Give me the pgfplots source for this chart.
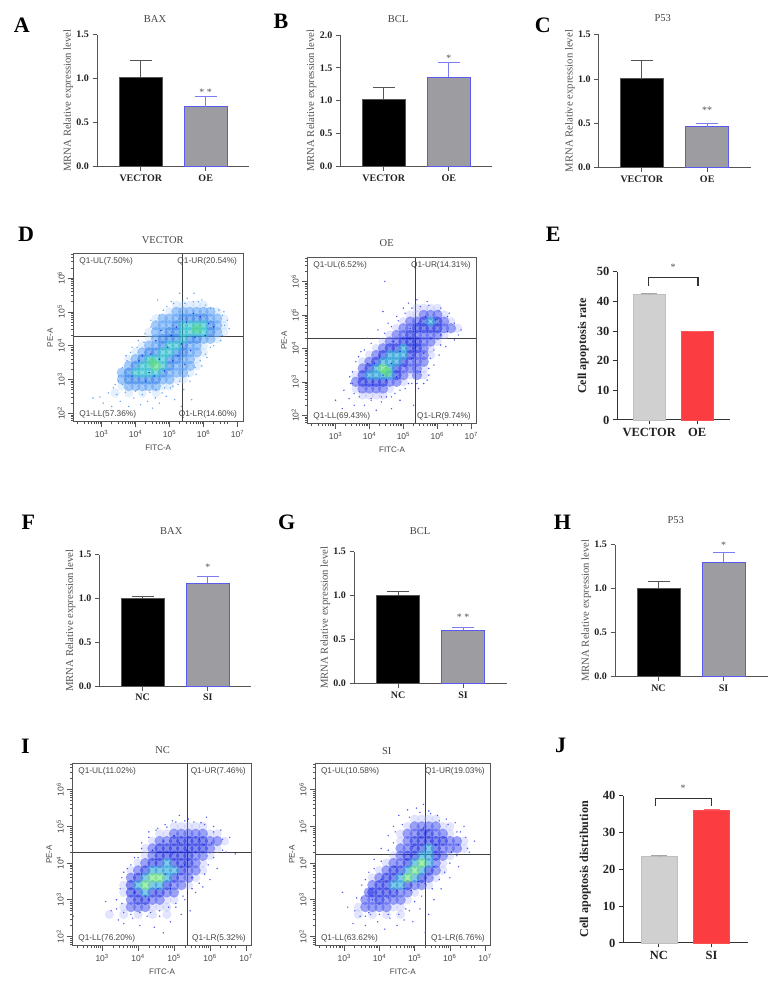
\documentclass[border=0pt]{standalone}
\usepackage{pgfplots}
\pgfplotsset{compat=1.18}
\usepackage{fontspec}
\setmainfont{Liberation Serif}
\newfontfamily\arial{Liberation Sans}
\definecolor{spine}{HTML}{555555}
\definecolor{errb}{HTML}{555555}
\definecolor{oeb}{HTML}{5A5AF0}
\definecolor{oef}{HTML}{9D9CA1}
\definecolor{txt}{HTML}{222222}
\definecolor{ttl}{HTML}{444444}
\definecolor{ngr}{HTML}{D0D0D0}
\definecolor{nrd}{HTML}{FB3C40}
% flow palettes
\definecolor{a0}{HTML}{A8CCFA}\definecolor{a1}{HTML}{5AA0F5}\definecolor{a2}{HTML}{2C7CEA}\definecolor{a3}{HTML}{24BCCB}\definecolor{a4}{HTML}{58D880}
\definecolor{b0}{HTML}{A0A8FA}\definecolor{b1}{HTML}{4A58F0}\definecolor{b2}{HTML}{1C2CE0}\definecolor{b3}{HTML}{1C9CD8}\definecolor{b4}{HTML}{60E070}
\pgfplotsset{
 barax/.style={scale only axis,anchor=south west,clip=false,ymin=0,
  axis x line*=bottom,axis y line*=left,axis line style={-,color=spine,line width=.9pt},
  tick style={color=spine,line width=.9pt},tick align=outside,major tick length=4.5pt,
  xtick={0,1},ybar,bar shift=0pt,bar width=43pt,
  tick label style={font=\bfseries\fontsize{10}{10}\selectfont,text=txt},
  /pgf/number format/assume math mode=true,
  yticklabel style={/pgf/number format/.cd,fixed,fixed zerofill,precision=1},
  ylabel={MRNA Relative expression level},
  every axis y label/.append style={at={(axis description cs:0,0.5)},anchor=center,yshift=28.7pt,
   font=\fontsize{10.7}{10.7}\selectfont,text=spine}},
 bigax/.style={barax,axis line style={-,color=black!80,line width=1pt},tick style={color=black!80,line width=1pt},
  tick label style={font=\bfseries\fontsize{12.5}{12.5}\selectfont,text=txt},
  yticklabel style={/pgf/number format/.cd,fixed,precision=0},
  every axis y label/.append style={font=\bfseries\fontsize{12.1}{12.1}\selectfont,text=txt}},
 blk/.style={fill=black,draw=spine,line width=.9pt,error bars/.cd,y dir=plus,y explicit,
  error bar style={color=errb,line width=.9pt},error mark options={rotate=90,mark size=11pt,color=errb,line width=.9pt}},
 gry/.style={fill=oef,draw=oeb,line width=.9pt,error bars/.cd,y dir=plus,y explicit,
  error bar style={color=oeb!80,line width=.9pt},error mark options={rotate=90,mark size=11pt,color=oeb!80,line width=.9pt}},
 ngb/.style={fill=ngr,draw=ngr!92!black,line width=.8pt,error bars/.cd,y dir=plus,y explicit,
  error bar style={color=ngr!80!black,line width=.7pt},error mark options={rotate=90,mark size=8pt,color=ngr!80!black,line width=.7pt}},
 rdb/.style={fill=nrd,draw=nrd!90,line width=.8pt,error bars/.cd,y dir=plus,y explicit,
  error bar style={color=nrd!80,line width=.7pt},error mark options={rotate=90,mark size=8pt,color=nrd!80,line width=.7pt}},
 flow/.style={scale only axis,anchor=south west,xmin=2.17,xmax=7.16,ymin=1.74,ymax=6.72,
  axis on top=true,axis line style={color=spine,line width=1pt},
  tick style={color=spine,line width=.6pt},tick align=outside,major tick length=5pt,minor tick length=2.5pt,
  xtick={3,4,5,6,7},ytick={2,3,4,5,6},
  xticklabels={\te3,\te4,\te5,\te6,\te7},yticklabels={\te2,\te3,\te4,\te5,\te6},
  minor xtick=\mt,minor ytick=\mt,
  xtick pos=bottom,ytick pos=left,
  tick label style={font=\arial\fontsize{8.5}{8.5}\selectfont,text=ttl},
  yticklabel style={rotate=90,anchor=south},
  xlabel={FITC-A},ylabel={PE-A},
  every axis x label/.append style={font=\arial\fontsize{8}{8}\selectfont,text=ttl,yshift=0pt},
  every axis y label/.append style={font=\arial\fontsize{8}{8}\selectfont,text=ttl,yshift=-2pt}}}
\newcommand\te[1]{10\textsuperscript{#1}}
\def\mt{1.78,1.85,1.9,1.95,2.3,2.48,2.6,2.7,2.78,2.85,2.9,2.95,3.3,3.48,3.6,3.7,3.78,3.85,3.9,3.95,4.3,4.48,4.6,4.7,4.78,4.85,4.9,4.95,5.3,5.48,5.6,5.7,5.78,5.85,5.9,5.95,6.3,6.48,6.6,6.7}
\newcommand\lv[2]{\addplot[only marks,mark=*,mark size=5.2pt,mark options={draw opacity=0,line width=0pt,fill=#1,fill opacity=.55}] coordinates {#2};}
\newcommand\lvz[2]{\addplot[only marks,mark=*,mark size=4.6pt,mark options={draw opacity=0,line width=0pt,fill=#1,fill opacity=.3}] coordinates {#2};}
\newcommand\spk[2]{\addplot[only marks,mark=*,mark size=.8pt,mark options={draw opacity=0,line width=0pt,fill=#1}] coordinates {#2};}
\newcommand\qd[2]{\addplot[no marks,color=black!75,line width=1pt] coordinates {(#1,1.74)(#1,6.72)};
 \addplot[no marks,color=black!75,line width=1pt] coordinates {(2.17,#2)(7.16,#2)};}
\newcommand\qn[4]{\node[anchor=west,font=\arial\fontsize{8.3}{8.3}\selectfont,text=ttl] at (rel axis cs:0,1) [xshift=2.5pt,yshift=-8pt] {#1};
 \node[anchor=east,font=\arial\fontsize{8.3}{8.3}\selectfont,text=ttl] at (rel axis cs:1,1) [xshift=-2.5pt,yshift=-8pt] {#2};
 \node[anchor=west,font=\arial\fontsize{8.3}{8.3}\selectfont,text=ttl] at (rel axis cs:0,0) [xshift=2.5pt,yshift=8pt] {#3};
 \node[anchor=east,font=\arial\fontsize{8.3}{8.3}\selectfont,text=ttl] at (rel axis cs:1,0) [xshift=-2.5pt,yshift=8pt] {#4};}
\newcommand\stt[2]{\node[font=\fontsize{10}{10}\selectfont,text=spine] at (axis cs:#1) {#2};}
\newcommand\ttlb[2]{\node[font=\fontsize{10.5}{10.5}\selectfont,text=ttl] at (#1) {#2};}
\newcommand\pl[2]{\node[font=\bfseries\fontsize{22}{22}\selectfont] at (#1) {#2};}
\begin{document}
\begin{tikzpicture}[x=1pt,y=1pt]
\path[use as bounding box] (0,0) rectangle (779,984);
\pl{21.7,958.3}{A}\pl{281,963}{B}\pl{542.7,959}{C}\pl{26,750}{D}\pl{553.3,750}{E}
\pl{28.3,461.3}{F}\pl{286.7,461.3}{G}\pl{562.3,461.7}{H}\pl{25.3,237.3}{I}\pl{560.7,239}{J}
\ttlb{155,965.3}{BAX}\ttlb{398,965.3}{BCL}\ttlb{662.7,966}{P53}\ttlb{162.7,744}{VECTOR}\ttlb{386.7,740.7}{OE}
\ttlb{171.3,452.7}{BAX}\ttlb{420,452.7}{BCL}\ttlb{675.7,464}{P53}\ttlb{162.7,234}{NC}\ttlb{386.7,233.3}{SI}
% A
\begin{axis}[barax,at={(97pt,817.5pt)},width=152.3pt,height=131.8pt,xmin=-.675,xmax=1.672,ymax=1.5,ytick={0,.5,1,1.5},xticklabels={VECTOR,OE}]
\addplot[blk] coordinates {(0,1.01) +- (0,.20)};
\addplot[gry] coordinates {(1,.68) +- (0,.12)};
\stt{1,.85}{* *}
\end{axis}
% B
\begin{axis}[barax,at={(340.3pt,817.5pt)},width=151.7pt,height=131.5pt,xmin=-.669,xmax=1.665,ymax=2,ytick={0,.5,1,1.5,2},xticklabels={VECTOR,OE}]
\addplot[blk] coordinates {(0,1.02) +- (0,.18)};
\addplot[gry] coordinates {(1,1.36) +- (0,.22)};
\stt{1,1.65}{*}
\end{axis}
% C
\begin{axis}[barax,at={(598.7pt,816.3pt)},width=152pt,height=133pt,xmin=-.659,xmax=1.665,ymax=1.5,ytick={0,.5,1,1.5},xticklabels={VECTOR,OE}]
\addplot[blk] coordinates {(0,1.01) +- (0,.20)};
\addplot[gry] coordinates {(1,.46) +- (0,.035)};
\stt{1,.65}{**}
\end{axis}
% F
\begin{axis}[barax,at={(99.3pt,297.7pt)},width=152pt,height=131.6pt,xmin=-.662,xmax=1.666,ymax=1.5,ytick={0,.5,1,1.5},xticklabels={NC,SI}]
\addplot[blk] coordinates {(0,1.0) +- (0,.02)};
\addplot[gry] coordinates {(1,1.175) +- (0,.08)};
\stt{1,1.36}{*}
\end{axis}
% G
\begin{axis}[barax,at={(354pt,300.3pt)},width=152.7pt,height=132pt,xmin=-.677,xmax=1.672,ymax=1.5,ytick={0,.5,1,1.5},xticklabels={NC,SI}]
\addplot[blk] coordinates {(0,1.0) +- (0,.05)};
\addplot[gry] coordinates {(1,.606) +- (0,.035)};
\stt{1,.75}{* *}
\end{axis}
% H
\begin{axis}[barax,at={(615pt,307.3pt)},width=152.7pt,height=132pt,xmin=-.669,xmax=1.68,ymax=1.5,ytick={0,.5,1,1.5},xticklabels={NC,SI}]
\addplot[blk] coordinates {(0,1.0) +- (0,.085)};
\addplot[gry] coordinates {(1,1.3) +- (0,.11)};
\stt{1,1.49}{*}
\end{axis}
% E
\begin{axis}[bigax,at={(617.3pt,564pt)},width=112.7pt,height=148.3pt,xmin=-.665,xmax=1.683,ymax=50,ytick={0,10,20,30,40,50},xticklabels={VECTOR,OE},bar width=32pt,ylabel={Cell apoptosis rate},every axis y label/.append style={yshift=5.3pt}]
\addplot[ngb] coordinates {(0,42.2) +- (0,.5)};
\addplot[rdb] coordinates {(1,29.8) +- (0,.2)};
\addplot[sharp plot,no markers,draw=black!80,line width=1.4pt,fill=none,forget plot] coordinates {(-.02,45.2)(-.02,48)(1.02,48)(1.02,45.2)};
\stt{.5,51.5}{*}
\end{axis}
% J
\begin{axis}[bigax,at={(623.3pt,41pt)},width=124.4pt,height=147.3pt,xmin=-.677,xmax=1.688,ymax=40,ytick={0,10,20,30,40},xticklabels={NC,SI},bar width=36pt,ylabel={Cell apoptosis distribution},every axis y label/.append style={yshift=9.3pt}]
\addplot[ngb] coordinates {(0,23.5) +- (0,.2)};
\addplot[rdb] coordinates {(1,36) +- (0,.3)};
\addplot[sharp plot,no markers,draw=black!80,line width=1.4pt,fill=none,forget plot] coordinates {(-.07,37.2)(-.07,39.2)(1,39.2)(1,37.2)};
\stt{.46,42}{*}
\end{axis}
% D flow
\begin{axis}[flow,at={(73.3pt,562pt)},width=169.7pt,height=168.3pt]
\lvz{a0}{(5.2,5.2)(5.4,5.2)(5.6,5.2)(5.8,5.2)(6.0,5.2)(5.0,5.0)(6.4,5.0)(4.6,4.8)(6.6,4.8)(6.6,4.6)(4.4,4.4)(6.6,4.4)(4.4,4.2)(6.4,4.2)(4.2,4.0)(6.0,4.0)(4.0,3.8)(6.0,3.8)(3.8,3.6)(5.8,3.6)(5.8,3.4)(5.6,3.2)(5.2,3.0)(5.4,3.0)(3.6,2.8)(4.8,2.8)(5.0,2.8)(3.4,2.6)(3.8,2.6)(4.2,2.6)(4.6,2.6)}
\lv{a1}{(5.2,5.0)(5.4,5.0)(5.6,5.0)(5.8,5.0)(6.0,5.0)(6.2,5.0)(4.8,4.8)(5.0,4.8)(5.2,4.8)(6.2,4.8)(6.4,4.8)(4.6,4.6)(4.8,4.6)(5.0,4.6)(6.4,4.6)(4.6,4.4)(4.8,4.4)(6.4,4.4)(4.6,4.2)(6.0,4.2)(6.2,4.2)(4.4,4.0)(4.6,4.0)(5.6,4.0)(5.8,4.0)(4.2,3.8)(5.6,3.8)(5.8,3.8)(4.0,3.6)(5.4,3.6)(5.6,3.6)(3.8,3.4)(5.2,3.4)(5.4,3.4)(5.6,3.4)(3.6,3.2)(5.0,3.2)(5.2,3.2)(5.4,3.2)(3.6,3.0)(4.8,3.0)(5.0,3.0)(3.8,2.8)(4.0,2.8)(4.2,2.8)(4.4,2.8)(4.6,2.8)}
\lv{a2}{(5.4,4.8)(5.6,4.8)(5.8,4.8)(6.0,4.8)(5.2,4.6)(6.2,4.6)(5.0,4.4)(5.2,4.4)(6.2,4.4)(4.8,4.2)(5.0,4.2)(5.2,4.2)(5.6,4.2)(5.8,4.2)(4.8,4.0)(5.4,4.0)(4.4,3.8)(4.6,3.8)(5.2,3.8)(5.4,3.8)(4.2,3.6)(5.0,3.6)(5.2,3.6)(4.0,3.4)(5.0,3.4)(3.8,3.2)(4.8,3.2)(3.8,3.0)(4.0,3.0)(4.2,3.0)(4.4,3.0)(4.6,3.0)}
\lv{a3}{(5.4,4.6)(5.6,4.6)(5.8,4.6)(6.0,4.6)(5.4,4.4)(5.6,4.4)(5.8,4.4)(6.0,4.4)(5.4,4.2)(5.0,4.0)(5.2,4.0)(4.8,3.8)(5.0,3.8)(4.4,3.6)(4.6,3.6)(4.8,3.6)(4.2,3.4)(4.4,3.4)(4.8,3.4)(4.0,3.2)(4.2,3.2)(4.4,3.2)(4.6,3.2)}
\lv{a4}{(4.6,3.4)(4.5,3.5)(5.8,4.5)}
\spk{a1}{(2.75,2.45)(2.95,2.48)(3.05,2.3)(3.2,2.6)(3.3,2.2)(3.35,2.75)(3.45,2.55)(3.5,2.95)(3.55,2.35)(3.62,3.35)(3.7,2.62)(3.72,3.7)(3.8,2.2)(3.88,2.9)(3.9,3.95)(3.95,2.45)(4.05,2.7)(4.08,4.15)(4.15,2.25)(4.2,2.55)(4.28,4.35)(4.35,2.35)(4.42,2.62)(4.45,4.75)(4.5,2.15)(4.58,2.45)(4.65,5.35)(4.7,2.3)(4.78,2.6)(4.82,5.05)(4.9,2.5)(5.02,2.75)(5.05,5.3)(5.15,2.4)(5.25,2.85)(5.3,5.55)(5.35,2.2)(5.42,2.7)(5.52,5.4)(5.6,2.95)(5.65,2.4)(5.72,5.55)(5.78,3.15)(5.85,5.3)(5.95,3.4)(6.05,5.2)(6.1,3.65)(6.2,5.1)(6.3,4.0)(6.45,5.05)(6.55,4.3)(6.7,4.75)(6.75,4.5)(6.6,5.0)(3.5,3.1)(3.62,2.85)(3.4,2.85)(3.75,3.55)(3.85,3.8)(4.05,3.95)(4.25,4.1)(4.45,4.55)(4.5,4.25)(4.7,4.9)(4.92,5.15)(5.12,5.25)(5.45,5.25)(5.7,5.3)(5.95,5.35)(6.3,5.1)(6.55,4.9)(6.62,4.6)(6.5,4.15)(6.2,3.95)(6.05,3.75)(5.9,3.55)(5.75,3.35)(5.55,3.1)(5.3,2.95)(5.1,2.8)(4.85,2.75)(4.6,2.7)(4.3,2.7)(4.0,2.65)(3.75,2.75)}
\spk{b2}{(3.9,3.1)(4.1,3.55)(4.3,2.95)(4.45,3.75)(4.55,3.1)(4.7,3.6)(4.85,3.25)(4.95,3.95)(5.1,3.55)(5.05,4.3)(5.25,3.7)(5.2,4.55)(5.35,4.05)(5.45,3.45)(5.5,4.7)(5.62,3.85)(5.7,4.95)(5.75,4.25)(5.9,4.85)(6.05,4.3)(6.15,4.65)(6.3,4.55)(4.75,4.45)(4.6,4.15)(4.4,3.2)(4.2,3.7)}
\qd{5.38}{4.277}
\qn{Q1-UL(7.50\%)}{Q1-UR(20.54\%)}{Q1-LL(57.36\%)}{Q1-LR(14.60\%)}
\end{axis}
% OE flow
\begin{axis}[flow,at={(307.3pt,560pt)},width=169.4pt,height=166.7pt]
\lvz{b0}{(5.4,5.2)(5.6,5.2)(5.8,5.2)(6.0,5.2)(5.2,5.0)(5.4,5.0)(6.2,5.0)(5.0,4.8)(6.4,4.8)(4.8,4.6)(6.6,4.6)(4.6,4.4)(6.2,4.4)(4.4,4.2)(6.0,4.2)(4.2,4.0)(5.8,4.0)(4.0,3.8)(5.8,3.8)(3.8,3.6)(5.6,3.4)(3.6,3.2)(5.2,3.2)(5.6,3.2)(5.0,3.0)(3.6,2.8)(4.6,2.8)(3.8,2.6)(4.0,2.6)(4.2,2.6)(4.4,2.6)}
\lv{b1}{(5.6,5.0)(5.8,5.0)(6.0,5.0)(5.2,4.8)(5.4,4.8)(6.2,4.8)(5.0,4.6)(5.2,4.6)(6.2,4.6)(6.4,4.6)(4.8,4.4)(5.0,4.4)(5.4,4.4)(5.6,4.4)(5.8,4.4)(6.0,4.4)(4.6,4.2)(4.8,4.2)(5.6,4.2)(5.8,4.2)(4.4,4.0)(5.6,4.0)(4.2,3.8)(5.4,3.8)(5.6,3.8)(4.0,3.6)(5.2,3.6)(5.4,3.6)(5.6,3.6)(3.8,3.4)(5.0,3.4)(5.2,3.4)(5.4,3.4)(5.0,3.2)(5.4,3.2)(3.6,3.0)(4.6,3.0)(4.8,3.0)(3.8,2.8)(4.0,2.8)(4.2,2.8)(4.4,2.8)}
\lv{b2}{(5.6,4.8)(6.0,4.8)(5.4,4.6)(5.6,4.6)(5.8,4.6)(6.0,4.6)(5.2,4.4)(5.0,4.2)(5.2,4.2)(5.4,4.2)(4.6,4.0)(4.8,4.0)(5.2,4.0)(5.4,4.0)(4.4,3.8)(5.2,3.8)(4.2,3.6)(5.0,3.6)(4.0,3.4)(4.8,3.4)(3.8,3.2)(4.8,3.2)(3.8,3.0)(4.0,3.0)(4.2,3.0)(4.4,3.0)}
\lv{b3}{(5.8,4.8)(5.0,4.0)(4.6,3.8)(4.8,3.8)(5.0,3.8)(4.4,3.6)(4.6,3.6)(4.8,3.6)(4.2,3.4)(4.6,3.4)(4.0,3.2)(4.2,3.2)(4.4,3.2)(4.6,3.2)}
\lv{b4}{(4.4,3.4)(4.5,3.3)}
\spk{b1}{(3.0,2.45)(3.2,2.2)(3.25,2.75)(3.4,2.5)(3.45,2.95)(3.5,3.3)(3.55,2.3)(3.6,3.6)(3.7,2.55)(3.75,3.9)(3.85,2.3)(3.95,4.3)(4.05,2.45)(4.2,2.15)(4.25,4.55)(4.35,2.4)(4.5,2.55)(4.55,4.75)(4.65,2.2)(4.75,2.65)(4.8,4.95)(4.9,2.45)(5.0,5.2)(5.05,2.8)(5.15,5.35)(5.25,2.95)(5.3,2.3)(5.4,5.45)(5.45,2.8)(5.6,2.95)(5.7,5.4)(5.75,3.2)(5.9,3.5)(6.05,3.8)(6.1,5.2)(6.25,4.05)(6.35,5.05)(6.5,4.25)(6.7,4.55)(4.45,6.0)(4.4,5.1)(3.5,2.95)(3.42,3.15)(3.55,2.65)(3.68,3.75)(3.85,3.95)(4.05,4.15)(4.25,4.3)(4.45,4.45)(4.65,4.65)(4.85,4.82)(5.05,5.05)(5.25,5.2)(5.5,5.25)(5.75,5.28)(6.05,5.12)(6.3,4.95)(6.5,4.75)(6.62,4.4)(6.3,4.3)(6.1,4.1)(5.9,3.95)(5.8,3.7)(5.75,3.4)(5.7,3.05)(5.4,2.95)(5.15,2.95)(4.9,2.75)(4.65,2.55)(4.35,2.55)(4.05,2.5)(3.7,2.7)}
\spk{b2}{(3.75,3.05)(3.95,3.55)(4.1,2.9)(4.3,3.75)(4.5,3.05)(4.65,3.55)(4.8,3.15)(4.9,3.9)(5.05,3.45)(5.1,4.3)(5.25,3.7)(5.2,4.6)(5.35,4.1)(5.5,3.3)(5.45,4.75)(5.6,3.85)(5.65,4.95)(5.8,4.3)(5.95,4.85)(6.1,4.4)(6.3,4.5)(4.7,4.2)(4.4,3.2)(4.15,3.55)}
\qd{5.365}{4.28}
\qn{Q1-UL(6.52\%)}{Q1-UR(14.31\%)}{Q1-LL(69.43\%)}{Q1-LR(9.74\%)}
\end{axis}
% NC flow
\begin{axis}[flow,at={(72.3pt,38pt)},width=179.4pt,height=182.7pt]
\lvz{b0}{(5.0,5.0)(5.2,5.0)(5.4,5.0)(5.6,5.0)(5.8,5.0)(4.6,4.8)(4.8,4.8)(6.0,4.8)(6.2,4.8)(4.4,4.6)(6.4,4.6)(4.2,4.4)(6.2,4.4)(4.2,4.2)(6.0,4.2)(4.0,4.0)(5.8,4.0)(3.8,3.8)(5.8,3.8)(5.6,3.6)(3.6,3.4)(5.4,3.4)(3.6,3.2)(4.8,3.0)(5.0,3.0)(3.6,2.8)(4.4,2.8)(4.6,2.8)(4.8,2.8)(3.2,2.6)(3.6,2.6)(4.0,2.6)(4.4,2.6)(4.8,2.6)}
\lv{b1}{(5.0,4.8)(5.2,4.8)(5.4,4.8)(5.6,4.8)(5.8,4.8)(4.6,4.6)(4.8,4.6)(6.0,4.6)(6.2,4.6)(4.4,4.4)(6.0,4.4)(4.4,4.2)(5.6,4.2)(5.8,4.2)(4.2,4.0)(5.6,4.0)(4.0,3.8)(5.4,3.8)(5.6,3.8)(3.8,3.6)(5.2,3.6)(5.4,3.6)(5.0,3.4)(5.2,3.4)(4.8,3.2)(5.0,3.2)(3.8,3.0)(4.4,3.0)(4.6,3.0)(3.8,2.8)(4.0,2.8)(4.2,2.8)}
\lv{b2}{(5.0,4.6)(5.2,4.6)(5.4,4.6)(5.6,4.6)(5.8,4.6)(4.6,4.4)(4.8,4.4)(5.0,4.4)(5.2,4.4)(5.4,4.4)(5.6,4.4)(5.8,4.4)(4.6,4.2)(4.8,4.2)(5.0,4.2)(5.2,4.2)(5.4,4.2)(4.4,4.0)(4.6,4.0)(5.0,4.0)(5.2,4.0)(5.4,4.0)(4.2,3.8)(5.2,3.8)(4.0,3.6)(5.0,3.6)(3.8,3.4)(4.8,3.4)(3.8,3.2)(4.0,3.2)(4.4,3.2)(4.6,3.2)(4.0,3.0)(4.2,3.0)}
\lv{b3}{(4.8,4.0)(4.4,3.8)(4.6,3.8)(4.8,3.8)(5.0,3.8)(4.2,3.6)(4.8,3.6)(4.0,3.4)(4.4,3.4)(4.6,3.4)(4.2,3.2)}
\lv{b4}{(4.4,3.6)(4.6,3.6)(4.2,3.4)}
\spk{b1}{(3.1,2.95)(2.2,2.55)(3.25,2.7)(3.4,3.0)(3.45,2.45)(3.55,3.6)(3.6,2.35)(3.7,3.85)(3.85,2.5)(3.9,4.15)(4.05,2.3)(4.1,4.4)(4.25,2.55)(4.3,4.7)(4.45,2.25)(4.5,4.9)(4.6,2.55)(4.7,2.1)(4.75,5.05)(4.9,2.4)(4.95,5.15)(5.05,2.8)(5.15,5.3)(5.2,2.6)(5.3,3.0)(5.4,5.2)(5.45,2.7)(5.6,3.2)(5.75,5.1)(5.8,3.35)(5.9,5.25)(6.0,3.55)(6.1,5.0)(6.2,3.85)(6.3,4.9)(6.45,4.3)(6.55,4.7)(6.7,4.25)(3.5,3.3)(3.55,2.9)(3.4,2.75)(3.6,3.75)(3.8,3.95)(4.0,4.15)(4.1,4.55)(4.3,4.85)(4.55,4.95)(4.8,4.98)(5.05,5.12)(5.3,5.15)(5.55,5.12)(5.85,5.05)(6.1,4.85)(6.35,4.65)(6.35,4.35)(6.1,4.15)(5.95,3.95)(5.85,3.7)(5.7,3.45)(5.5,3.3)(5.25,3.1)(5.05,2.9)(4.85,2.8)(4.6,2.7)(4.35,2.65)(4.05,2.65)(3.8,2.6)(3.6,2.65)}
\spk{b2}{(3.9,3.2)(4.1,3.7)(4.3,3.0)(4.5,4.1)(4.55,3.3)(4.75,3.7)(4.9,3.3)(4.95,4.25)(5.1,3.7)(5.15,4.55)(5.3,3.95)(5.35,4.35)(5.45,4.7)(5.5,3.6)(5.6,4.3)(5.7,4.65)(5.85,4.5)(6.05,4.55)(4.7,4.6)(4.4,4.35)(5.0,4.75)(4.2,3.1)}
\qd{5.38}{4.29}
\qn{Q1-UL(11.02\%)}{Q1-UR(7.46\%)}{Q1-LL(76.20\%)}{Q1-LR(5.32\%)}
\end{axis}
% SI flow
\begin{axis}[flow,at={(315pt,38pt)},width=175.7pt,height=182.7pt]
\lvz{b0}{(5.0,5.2)(5.2,5.2)(5.4,5.2)(5.6,5.2)(4.8,5.0)(5.8,5.0)(6.0,5.0)(4.6,4.8)(6.0,4.8)(4.6,4.6)(6.4,4.6)(6.4,4.4)(4.4,4.2)(6.0,4.2)(4.2,4.0)(5.8,4.0)(4.0,3.8)(5.8,3.8)(3.8,3.6)(5.6,3.6)(5.4,3.4)(5.0,3.2)(4.8,3.0)(3.4,2.8)(4.4,2.8)(4.6,2.8)(3.4,2.6)(3.8,2.6)(4.2,2.6)(4.6,2.6)}
\lv{b1}{(5.0,5.0)(5.2,5.0)(5.4,5.0)(5.6,5.0)(4.8,4.8)(5.0,4.8)(5.6,4.8)(5.8,4.8)(4.8,4.6)(6.0,4.6)(6.2,4.6)(4.6,4.4)(4.8,4.4)(5.8,4.4)(6.0,4.4)(6.2,4.4)(4.6,4.2)(5.8,4.2)(4.4,4.0)(4.6,4.0)(5.6,4.0)(4.2,3.8)(5.6,3.8)(4.0,3.6)(5.4,3.6)(3.8,3.4)(5.0,3.4)(5.2,3.4)(3.7,3.2)(4.6,3.2)(4.8,3.2)(3.6,3.0)(3.8,3.0)(4.2,3.0)(4.4,3.0)(4.6,3.0)(3.6,2.8)(3.8,2.8)(4.0,2.8)(4.2,2.8)}
\lv{b2}{(5.2,4.8)(5.4,4.8)(5.0,4.6)(5.2,4.6)(5.4,4.6)(5.6,4.6)(5.8,4.6)(5.0,4.4)(5.2,4.4)(5.6,4.4)(4.8,4.2)(5.0,4.2)(5.6,4.2)(4.8,4.0)(4.4,3.8)(4.6,3.8)(5.4,3.8)(4.2,3.6)(4.4,3.6)(5.2,3.6)(4.0,3.4)(4.2,3.4)(4.8,3.4)(3.8,3.2)(4.0,3.2)(4.2,3.2)(4.4,3.2)(4.0,3.0)}
\lv{b3}{(5.4,4.4)(5.2,4.2)(5.4,4.2)(5.0,4.0)(5.4,4.0)(4.8,3.8)(5.2,3.8)(4.6,3.6)(5.0,3.6)(4.4,3.4)(4.6,3.4)}
\lv{b4}{(5.2,4.0)(5.0,3.8)(4.8,3.6)}
\spk{b1}{(2.95,3.2)(3.1,2.8)(3.25,2.35)(3.35,3.05)(3.45,2.55)(3.5,3.4)(3.6,2.3)(3.7,3.75)(3.75,2.6)(3.85,4.1)(3.95,2.4)(4.05,4.4)(4.15,2.2)(4.25,4.75)(4.3,2.5)(4.4,5.0)(4.5,2.3)(4.55,5.3)(4.7,2.45)(4.8,5.45)(4.85,2.7)(4.95,2.4)(5.05,5.5)(5.15,2.75)(5.25,5.6)(5.3,2.1)(5.4,2.6)(5.45,5.35)(5.55,3.0)(5.65,5.3)(5.75,3.3)(5.9,5.2)(6.0,3.6)(6.15,5.1)(6.25,3.9)(6.4,5.0)(6.55,4.3)(6.7,4.6)(6.3,4.85)(3.5,3.05)(3.3,2.7)(3.6,2.55)(3.6,3.55)(3.85,3.85)(4.05,4.05)(4.25,4.35)(4.4,4.55)(4.45,4.85)(4.65,5.05)(4.85,5.25)(5.15,5.38)(5.4,5.42)(5.7,5.15)(5.95,5.05)(6.2,4.85)(6.45,4.7)(6.5,4.4)(6.2,4.2)(6.0,4.0)(5.85,3.75)(5.7,3.55)(5.5,3.3)(5.2,3.1)(5.0,2.95)(4.75,2.75)(4.55,2.6)(4.25,2.6)(4.0,2.6)(3.7,2.65)}
\spk{b2}{(3.8,3.0)(4.05,3.55)(4.25,3.05)(4.45,3.9)(4.5,3.25)(4.7,3.3)(4.75,4.1)(4.9,3.25)(4.95,4.45)(5.1,3.5)(5.15,4.7)(5.3,3.45)(5.25,4.95)(5.45,4.6)(5.55,3.9)(5.6,4.5)(5.75,4.3)(5.85,4.7)(6.05,4.3)(6.25,4.5)(5.35,4.85)(4.65,3.7)}
\qd{5.31}{4.23}
\qn{Q1-UL(10.58\%)}{Q1-UR(19.03\%)}{Q1-LL(63.62\%)}{Q1-LR(6.76\%)}
\end{axis}
\end{tikzpicture}
\end{document}
